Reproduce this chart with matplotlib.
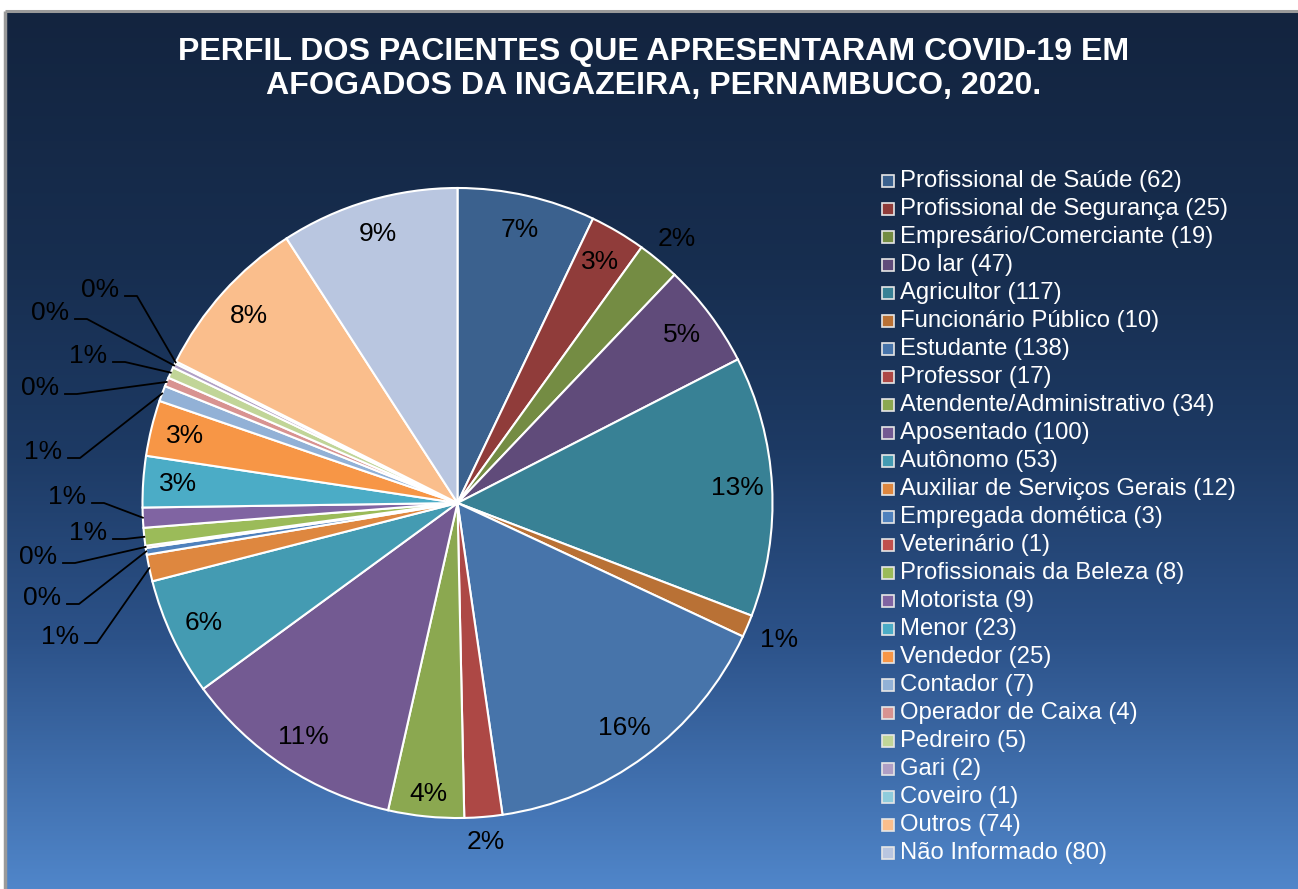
import numpy as np
import matplotlib
matplotlib.use("Agg")
import matplotlib.pyplot as plt
from matplotlib.patches import Rectangle
from matplotlib.colors import to_rgb

plt.rcParams['font.family'] = ['Liberation Sans', 'DejaVu Sans']

# ---------------- data ----------------
categories = [
    "Profissional de Saúde", "Profissional de Segurança", "Empresário/Comerciante",
    "Do lar", "Agricultor", "Funcionário Público", "Estudante", "Professor",
    "Atendente/Administrativo", "Aposentado", "Autônomo", "Auxiliar de Serviços Gerais",
    "Empregada domética", "Veterinário", "Profissionais da Beleza", "Motorista",
    "Menor", "Vendedor", "Contador", "Operador de Caixa", "Pedreiro", "Gari",
    "Coveiro", "Outros", "Não Informado",
]
values = [62, 25, 19, 47, 117, 10, 138, 17, 34, 100, 53, 12, 3, 1, 8, 9, 23, 25,
          7, 4, 5, 2, 1, 74, 80]

title = "PERFIL DOS PACIENTES QUE APRESENTARAM COVID-19 EM\nAFOGADOS DA INGAZEIRA, PERNAMBUCO, 2020."

# ---------------- colours ----------------
base = ['#4F81BD', '#C0504D', '#9BBB59', '#8064A2', '#4BACC6', '#F79646']


def shade(c, f):
    r, g, b = to_rgb(c)
    return (r * f, g * f, b * f)


def tint(c, t):
    r, g, b = to_rgb(c)
    return (r + (1 - r) * t, g + (1 - g) * t, b + (1 - b) * t)


colors = ([shade(c, 0.75) for c in base] + [shade(c, 0.9) for c in base] +
          [to_rgb(c) for c in base] + [tint(c, 0.38) for c in base] +
          ['#B9C6E0'])

W, H = 1298, 889
fig = plt.figure(figsize=(W / 100, H / 100), dpi=100, facecolor='white')
ax = fig.add_axes([0, 0, 1, 1])


def Y(y):  # reference pixel row (from top) -> axes y (up)
    return H - y


# background gradient
stops_y = np.array([12, 270, 450, 640, 889])
stops_c = np.array([to_rgb(c) for c in ['#13243F', '#172E50', '#1D3A64', '#2C5289', '#5086CA']])
rows = np.arange(12, 890)
grad = np.stack([np.interp(rows, stops_y, stops_c[:, k]) for k in range(3)], axis=1)
img = np.repeat(grad[:, None, :], 2, axis=1)
ax.imshow(img, extent=[6, W, 0, Y(12)], aspect='auto', origin='upper', zorder=0,
          interpolation='bilinear')
# frame lines (grey) on top / left
ax.plot([4.5, W], [Y(11), Y(11)], color='#9A9A9A', lw=2.2, zorder=1, solid_capstyle='butt')
ax.plot([4.5, 4.5], [0, Y(11)], color='#9A9A9A', lw=2.5, zorder=1, solid_capstyle='butt')

# pie
cx, cy, R = 457.5, Y(503), 315
wedges, _ = ax.pie(values, colors=colors, startangle=90, counterclock=False,
                   center=(cx, cy), radius=R,
                   wedgeprops=dict(edgecolor='white', linewidth=1.5, zorder=2))
total = sum(values)
pcts = [f"{round(v / total * 100):.0f}%" for v in values]

radial = {2: 1.09, 5: 1.11, 7: 1.08, 8: 0.93}
leader_pos = {11: (60, 637), 12: (42, 598), 13: (38, 557), 14: (88, 533),
              15: (67, 497), 18: (43, 452), 19: (40, 388), 20: (88, 356),
              21: (50, 313), 22: (100, 290)}
for i, w in enumerate(wedges):
    ang = np.deg2rad((w.theta1 + w.theta2) / 2)
    ux, uy = np.cos(ang), np.sin(ang)
    if i in leader_pos:
        lx, ly = leader_pos[i]
        ax.text(lx, Y(ly), pcts[i], ha='center', va='center', fontsize=19,
                color='black', zorder=5)
        ex, ey = cx + ux * R, cy + uy * R
        ax.plot([lx + 25, lx + 37, ex], [Y(ly + 6), Y(ly + 6), ey],
                color='black', lw=1.3, zorder=4)
    else:
        rr = radial.get(i, 0.89)
        ax.text(cx + ux * R * rr, cy + uy * R * rr, pcts[i], ha='center', va='center',
                fontsize=19, color='black', zorder=5)

# title
ax.text(654, Y(69), title, ha='center', va='center', fontsize=23.1, fontweight='bold',
        color='white', linespacing=1.2, zorder=5)

# legend
for i, (lab, val) in enumerate(zip(categories, values)):
    yy = 181 + i * 28
    ax.add_patch(Rectangle((882, Y(yy) - 6), 12, 12, facecolor=colors[i],
                           edgecolor='#E6E6E6', lw=1.2, zorder=5))
    ax.text(900, Y(yy), f"{lab} ({val})", ha='left', va='center', fontsize=17.2,
            color='white', zorder=5)

ax.set_xlim(0, W)
ax.set_ylim(0, H)
ax.set_aspect('auto')
ax.set_axis_off()
fig.savefig('out.png', dpi=100, facecolor='white')
